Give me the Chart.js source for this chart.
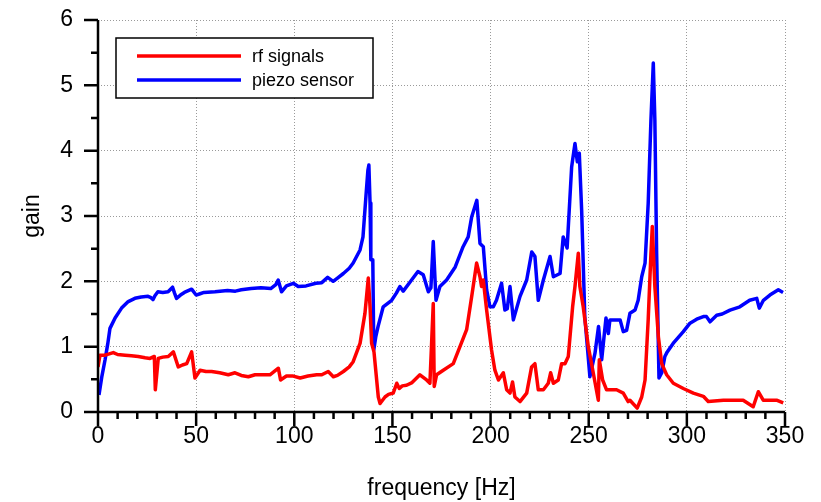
<!DOCTYPE html>
<html>
<head>
<meta charset="utf-8">
<script src="https://cdn.jsdelivr.net/npm/chart.js@4"></script>
<style>
  body { margin: 0; background: #fff; }
</style>
</head>
<body>
<canvas id="chart" width="821" height="502"></canvas>
<script>
// values
const rfFreq = [0, 1, 3.6, 7.8, 10, 13.8, 17, 20.5, 24, 26.5, 28.7, 29.2, 30.7, 33, 35.8, 38.4, 40.9, 43, 45.2, 47.7, 49.4, 52, 55, 57.9, 62, 66.4, 69.8, 73, 76.6, 80, 83.4, 87.6, 91.9, 93, 96, 99.5, 103, 107, 111.4, 114, 117.3, 119.9, 122, 125, 128, 130, 133.5, 136, 137.7, 138.6, 139.4, 140.6, 142.8, 143.7, 146.2, 148, 150.4, 152.2, 153.5, 155, 157.2, 160, 164, 167.4, 169.1, 170.8, 171.3, 172.5, 175.9, 181, 184.4, 187.8, 190.4, 192.9, 194.6, 195.4, 196.3, 198, 200.5, 202.2, 204, 206.5, 208.2, 209.9, 211.2, 212.4, 215, 218.4, 220.9, 222.6, 224.3, 226.9, 229.4, 230.6, 232, 234.5, 236.2, 237.9, 239.6, 241.8, 243, 244.7, 245.5, 247.2, 249.8, 252.3, 254.9, 255.4, 257.1, 259.1, 264.2, 267.6, 270.1, 271, 274.7, 277, 278.7, 280.3, 281.7, 282.4, 283.7, 285.5, 287.2, 289.7, 293.1, 298.2, 303.3, 308.4, 310.9, 318.6, 328.7, 333.8, 336.4, 338.9, 345.7, 349.1];
const rfGain = [0.69, 0.87, 0.87, 0.91, 0.88, 0.87, 0.86, 0.85, 0.83, 0.82, 0.85, 0.34, 0.82, 0.84, 0.85, 0.92, 0.69, 0.72, 0.74, 0.92, 0.52, 0.64, 0.62, 0.62, 0.6, 0.57, 0.6, 0.56, 0.54, 0.57, 0.57, 0.57, 0.67, 0.49, 0.55, 0.55, 0.52, 0.55, 0.57, 0.57, 0.62, 0.54, 0.56, 0.62, 0.69, 0.77, 1.05, 1.51, 2.05, 1.61, 1.05, 0.92, 0.23, 0.13, 0.23, 0.27, 0.29, 0.44, 0.36, 0.4, 0.41, 0.45, 0.57, 0.49, 0.44, 1.66, 0.39, 0.57, 0.64, 0.74, 1.0, 1.26, 1.77, 2.28, 2.07, 1.92, 2.02, 1.56, 0.95, 0.64, 0.49, 0.6, 0.34, 0.29, 0.46, 0.23, 0.16, 0.29, 0.69, 0.74, 0.34, 0.34, 0.44, 0.6, 0.44, 0.49, 0.74, 0.74, 0.85, 1.61, 1.92, 2.43, 1.92, 1.61, 1.0, 0.6, 0.18, 0.8, 0.49, 0.34, 0.34, 0.29, 0.16, 0.18, 0.06, 0.23, 0.49, 1.41, 2.43, 2.84, 1.92, 1.15, 0.74, 0.57, 0.44, 0.36, 0.29, 0.24, 0.16, 0.18, 0.18, 0.08, 0.31, 0.18, 0.18, 0.14];

const piezoFreq = [0.5, 2, 3.6, 5, 6.1, 8.7, 12, 15.4, 18.8, 22, 25.5, 27, 28, 29, 30.5, 33, 35.7, 38, 39, 40, 42, 44, 47.7, 50, 52, 54, 59.6, 66, 70, 73, 78, 83, 88, 90.6, 91.8, 93.5, 96, 99.5, 102, 106, 111, 114, 117, 119.8, 122, 125, 128, 130, 133.5, 135, 136.5, 137.5, 138, 138.6, 139, 140, 140.5, 141.5, 142.7, 145.3, 149.6, 152, 153.8, 155.5, 159, 163, 165.7, 168.3, 169.6, 170.8, 172.2, 174.2, 177.6, 182, 186, 188.6, 190.4, 193, 194.6, 196.3, 198, 199.7, 201.4, 203, 205.6, 207.3, 208.5, 209.9, 211.6, 215, 218.4, 221, 222.6, 224.3, 226.9, 230.3, 232, 235.4, 237, 239, 241.3, 243, 244.2, 245.2, 246.4, 248, 250.6, 253.2, 255, 256.6, 258.8, 260, 260.8, 266, 267.6, 269.3, 271, 273.6, 275.2, 277, 278.7, 280.3, 281.7, 282.9, 283.7, 284.6, 285.8, 287.2, 288.8, 290, 293, 298.2, 301.6, 305, 308.4, 310, 311.8, 315.2, 318, 322, 327, 332, 335.6, 336.9, 339, 342.3, 346.6, 349];
const piezoGain = [0.26, 0.55, 0.8, 1.05, 1.28, 1.44, 1.59, 1.69, 1.74, 1.76, 1.77, 1.75, 1.72, 1.78, 1.84, 1.83, 1.84, 1.91, 1.82, 1.74, 1.79, 1.83, 1.88, 1.79, 1.81, 1.83, 1.84, 1.86, 1.85, 1.87, 1.89, 1.9, 1.89, 1.95, 2.02, 1.84, 1.93, 1.97, 1.92, 1.93, 1.97, 1.98, 2.06, 2.0, 2.05, 2.12, 2.2, 2.28, 2.48, 2.68, 3.3, 3.7, 3.78, 3.2, 2.33, 2.33, 0.95, 1.15, 1.31, 1.61, 1.71, 1.82, 1.92, 1.85, 1.99, 2.15, 2.1, 1.84, 1.9, 2.61, 1.71, 1.92, 2.02, 2.22, 2.53, 2.68, 2.99, 3.24, 2.58, 2.53, 1.87, 1.61, 1.61, 1.71, 1.97, 1.56, 1.58, 1.92, 1.41, 1.77, 2.02, 2.45, 2.38, 1.71, 2.02, 2.38, 2.07, 2.12, 2.68, 2.51, 3.75, 4.11, 3.83, 3.96, 3.09, 1.46, 0.54, 0.9, 1.31, 0.8, 1.44, 1.2, 1.41, 1.41, 1.23, 1.25, 1.51, 1.56, 1.71, 2.07, 2.28, 3.19, 4.47, 5.34, 4.47, 2.43, 0.52, 0.6, 0.85, 0.92, 1.05, 1.23, 1.36, 1.42, 1.46, 1.46, 1.38, 1.48, 1.5, 1.56, 1.61, 1.71, 1.74, 1.59, 1.71, 1.79, 1.87, 1.83];

const seriesNames = ["rf signals", "piezo sensor"];
const xTicks = [0, 50, 100, 150, 200, 250, 300, 350];
const yTicks = [0, 1, 2, 3, 4, 5, 6];

const FONT = "'Liberation Sans', Arial, sans-serif";

function toPoints(xs, ys) {
  return xs.map((x, i) => ({ x: x, y: ys[i] }));
}

// axis lines, outward major/minor ticks and the boxed legend
const frame = {
  id: "frame",
  afterDraw(chart) {
    const ctx = chart.ctx;
    const xs = chart.scales.x, ys = chart.scales.y;
    const x0 = xs.getPixelForValue(0), x1 = xs.getPixelForValue(350);
    const y0 = ys.getPixelForValue(0), y1 = ys.getPixelForValue(6);
    ctx.save();
    ctx.strokeStyle = "#000";
    ctx.lineWidth = 2.5;
    ctx.beginPath();
    ctx.moveTo(x0, y1);
    ctx.lineTo(x0, y0);
    ctx.moveTo(x0 - 14, y0);
    ctx.lineTo(x1, y0);
    for (let v = 0; v <= 350; v += 10) {
      const px = xs.getPixelForValue(v);
      ctx.moveTo(px, y0);
      ctx.lineTo(px, y0 + (v % 50 === 0 ? 14 : 7));
    }
    for (let v = 0.5; v <= 6; v += 0.5) {
      const py = ys.getPixelForValue(v);
      ctx.moveTo(x0, py);
      ctx.lineTo(x0 - (v % 1 === 0 ? 14 : 7), py);
    }
    ctx.stroke();

    // legend
    const lx = 116, ly = 38, lw = 257, lh = 60;
    ctx.fillStyle = "#fff";
    ctx.fillRect(lx, ly, lw, lh);
    ctx.lineWidth = 1.5;
    ctx.strokeRect(lx, ly, lw, lh);
    ctx.font = "18px " + FONT;
    ctx.textBaseline = "middle";
    chart.data.datasets.forEach((ds, i) => {
      const yy = 56 + i * 24;
      ctx.strokeStyle = ds.borderColor;
      ctx.lineWidth = 3.5;
      ctx.beginPath();
      ctx.moveTo(137, yy);
      ctx.lineTo(241, yy);
      ctx.stroke();
      ctx.fillStyle = "#000";
      ctx.fillText(ds.label, 252, yy + 1);
    });
    ctx.restore();
  }
};

new Chart(document.getElementById("chart"), {
  type: "line",
  data: {
    datasets: [
      {
        label: seriesNames[0],
        data: toPoints(rfFreq, rfGain),
        borderColor: "#ff0000",
        borderWidth: 3.5,
        borderJoinStyle: "round",
        pointRadius: 0,
        tension: 0
      },
      {
        label: seriesNames[1],
        data: toPoints(piezoFreq, piezoGain),
        borderColor: "#0000ff",
        borderWidth: 3.5,
        borderJoinStyle: "round",
        pointRadius: 0,
        tension: 0
      }
    ]
  },
  options: {
    responsive: false,
    animation: false,
    layout: { padding: { left: 0, right: 36, top: 20, bottom: 0 } },
    plugins: { legend: { display: false }, tooltip: { enabled: false } },
    scales: {
      x: {
        type: "linear",
        min: 0,
        max: 350,
        afterBuildTicks(scale) { scale.ticks = xTicks.map(v => ({ value: v })); },
        afterFit(scale) { scale.height = 90; },
        ticks: { color: "#000", font: { family: FONT, size: 23 }, padding: 11, maxRotation: 0 },
        grid: { color: "#9a9a9a", lineWidth: 1, drawTicks: false },
        border: { display: false, dash: [1, 2] },
        title: { display: true, text: "frequency [Hz]", color: "#000", font: { family: FONT, size: 23 }, padding: { top: 0, bottom: 0 } }
      },
      y: {
        min: 0,
        max: 6,
        afterBuildTicks(scale) { scale.ticks = yTicks.map(v => ({ value: v })); },
        afterFit(scale) {
          scale.width = 98;
          scale.paddingTop = 0;
          scale.paddingBottom = 0;
        },
        ticks: { color: "#000", font: { family: FONT, size: 23 }, padding: 25 },
        grid: { color: "#9a9a9a", lineWidth: 1, drawTicks: false },
        border: { display: false, dash: [1, 2] },
        title: { display: true, text: "gain", color: "#000", font: { family: FONT, size: 23 }, padding: { top: 19, bottom: 0 } }
      }
    }
  },
  plugins: [frame]
});
</script>
</body>
</html>
